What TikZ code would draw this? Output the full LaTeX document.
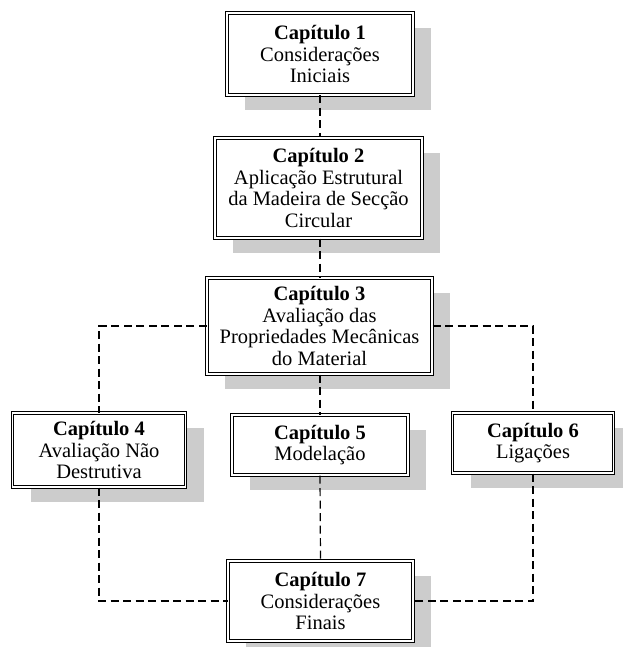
\documentclass[tikz,border=0pt]{standalone}
\usepackage{fontspec}
\setmainfont{Liberation Serif}
\usetikzlibrary{shadows}
\begin{document}
\begin{tikzpicture}[x=1pt,y=-1pt,
  chap/.style={draw, double, double distance=1.4pt, line width=1pt, fill=white,
    align=center, inner sep=0pt, font=\fontsize{20.5}{21.5}\selectfont,
    general shadow={fill=gray!40, shadow xshift=18pt, shadow yshift=-15pt}},
  link/.style={line width=1.2pt, dash pattern=on 8pt off 4.5pt}]
\useasboundingbox (0,0) rectangle (622,647);
\node[chap, minimum width=186pt, minimum height=82pt] (b1) at (320,54) {\textbf{Capítulo 1}\\Considerações\\Iniciais};
\node[chap, minimum width=207pt, minimum height=100pt] (b2) at (318.5,188) {\textbf{Capítulo 2}\\Aplicação Estrutural\\da Madeira de Secção\\Circular};
\node[chap, minimum width=225pt, minimum height=96pt] (b3) at (319.5,326) {\textbf{Capítulo 3}\\Avaliação das\\Propriedades Mecânicas\\do Material};
\node[chap, minimum width=173pt, minimum height=74pt] (b4) at (99,450) {\textbf{Capítulo 4}\\Avaliação Não\\Destrutiva};
\node[chap, minimum width=176pt, minimum height=60pt] (b5) at (320,445) {\textbf{Capítulo 5}\\Modelação};
\node[chap, minimum width=161pt, minimum height=60pt] (b6) at (533,443) {\textbf{Capítulo 6}\\Ligações};
\node[chap, minimum width=185pt, minimum height=80pt] (b7) at (320.5,601) {\textbf{Capítulo 7}\\Considerações\\Finais};
\draw[link] (b1.south) -- (b1.south |- b2.north);
\draw[link] (b1.south |- b2.south) -- (b1.south |- b3.north);
\draw[link] (b3.west) -| (b4.north);
\draw[link] (b3.east) -| (b6.north);
\draw[link] (b3.south -| b5.north) -- (b5.north);
\draw[link] (b5.south) -- (b7.north);
\draw[link] (b4.south) |- (b7.west);
\draw[link] (b6.south) |- (b7.east);
\end{tikzpicture}
\end{document}
